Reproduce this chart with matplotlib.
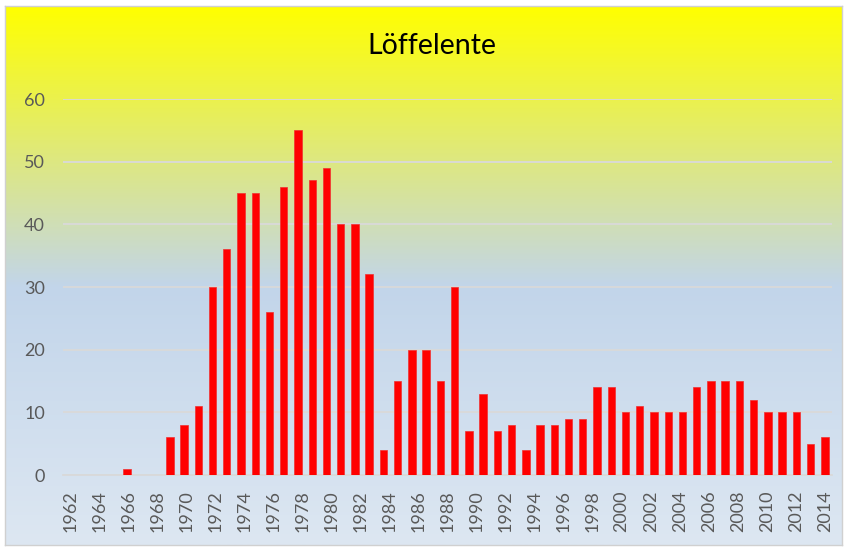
import matplotlib
matplotlib.use("Agg")
import matplotlib.pyplot as plt
import numpy as np
from matplotlib.colors import LinearSegmentedColormap

plt.rcParams["font.family"] = ["Lato", "DejaVu Sans"]

# bar heights as drawn, one per slot (first slot is 1962)
counts = [0, 0, 0, 0, 1, 0, 0, 6, 8, 11, 30, 36, 45, 45, 26, 46, 55, 47, 49, 40,
          40, 32, 4, 15, 20, 20, 15, 30, 7, 13, 7, 8, 4, 8, 8, 9, 9, 14, 14, 10,
          11, 10, 10, 10, 14, 15, 15, 15, 12, 10, 10, 10, 5, 6]
tick_years = list(range(1962, 2015, 2))
y_ticks = [0, 10, 20, 30, 40, 50, 60]
title = "Löffelente"

W, H = 847, 549
fig = plt.figure(figsize=(W / 100, H / 100), dpi=100)
fig.patch.set_facecolor("white")

# chart area with vertical gradient
bg = fig.add_axes([5 / W, 1 - 545 / H, 837 / W, 539 / H], zorder=0)
cmap = LinearSegmentedColormap.from_list(
    "bg", [(0.0, (1.0, 1.0, 0.0)),
           (0.52, (194 / 255, 213 / 255, 234 / 255)),
           (1.0, (221 / 255, 231 / 255, 242 / 255))])
grad = np.linspace(0, 1, 256).reshape(-1, 1)
bg.imshow(grad, aspect="auto", cmap=cmap, extent=[0, 1, 0, 1])
bg.set_xticks([])
bg.set_yticks([])
for s in bg.spines.values():
    s.set_color("#d0d0d0")
    s.set_linewidth(1)

ax = fig.add_axes([63 / W, 1 - 475 / H, (832 - 63) / W, (475 - 99) / H], zorder=1)
ax.patch.set_alpha(0)

x = np.arange(len(counts))
ax.bar(x, counts, width=0.52, color="#ff0000", edgecolor="#f03030", linewidth=0.5, zorder=3)

ax.set_xlim(-0.5, len(counts) - 0.5)
ax.set_ylim(0, 60)
ax.set_yticks(y_ticks)
ax.set_yticklabels([str(v) for v in y_ticks], fontsize=13, color="#595959")
ax.set_xticks(np.linspace(0, len(counts) - 1, len(tick_years)))
ax.set_xticklabels([str(y) for y in tick_years], rotation=90, fontsize=13,
                   color="#595959", va="top")
ax.tick_params(axis="y", length=0, pad=13)
ax.tick_params(axis="x", length=0, pad=11)

ax.grid(axis="y", color="#d9d9d9", linewidth=1.3, zorder=0)
for side in ["top", "right", "left"]:
    ax.spines[side].set_visible(False)
ax.spines["bottom"].set_color("#d9d9d9")
ax.spines["bottom"].set_linewidth(1.3)

fig.text(431.5 / W, 1 - 45.5 / H, title, ha="center", va="center", fontsize=20.5, color="black")

fig.savefig("out.png", dpi=100)
